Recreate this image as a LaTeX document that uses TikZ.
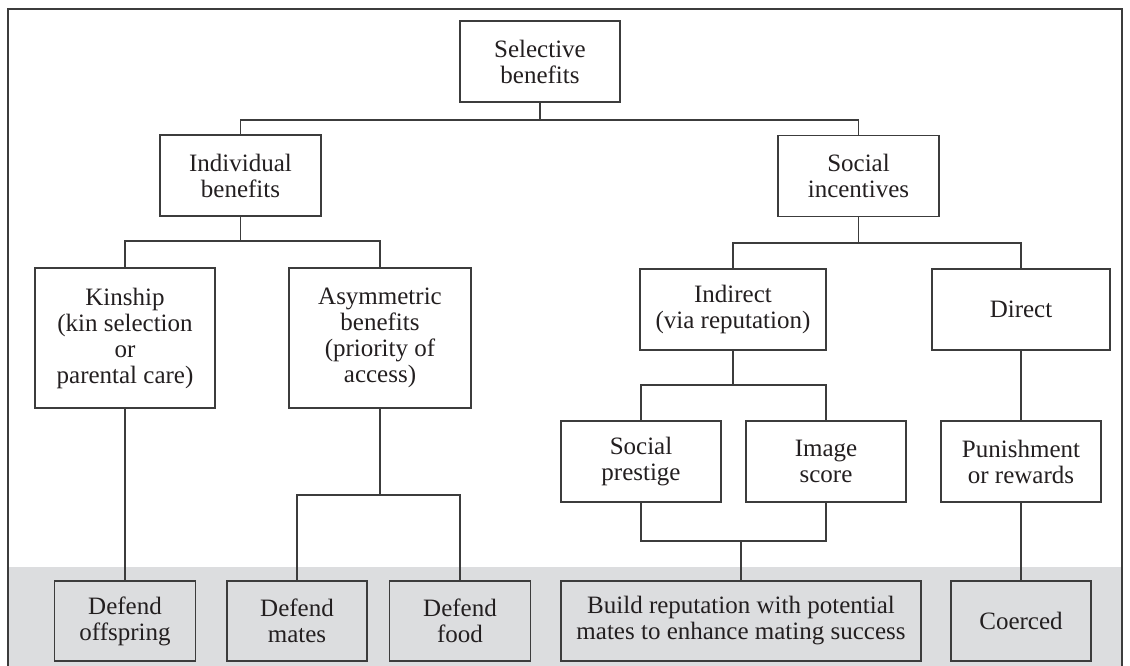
\documentclass[tikz,border=0pt]{standalone}
\usepackage{fontspec}
\setmainfont{Liberation Serif}
\definecolor{linec}{HTML}{3C3C3C}
\definecolor{textc}{HTML}{231F20}
\definecolor{bandc}{HTML}{DCDDDF}
\tikzset{
  box/.style={draw=linec, line width=1.3pt, align=center, inner sep=0pt,
    text=textc, font=\fontsize{25}{26}\selectfont},
  conn/.style={draw=linec, line width=1.3pt},
  whitebox/.style={box, fill=white},
  graybox/.style={box, fill=bandc}
}
\begin{document}
\begin{tikzpicture}[x=1pt,y=-1pt]
\useasboundingbox (0,0) rectangle (1130,666);
% background band and frame
\fill[bandc] (8,567) rectangle (1122,666);
\draw[conn] (8,666) -- (8,9) -- (1122,9) -- (1122,666);

% nodes
\node[whitebox, minimum width=160pt, minimum height=81pt] (sel) at (540,61.5) {Selective\\benefits};
\node[whitebox, minimum width=161pt, minimum height=81pt] (ind) at (240.5,175.5) {Individual\\benefits};
\node[whitebox, minimum width=161pt, minimum height=81pt] (soc) at (858.5,176) {Social\\incentives};
\node[whitebox, minimum width=180pt, minimum height=140pt] (kin) at (125,338) {Kinship\\(kin selection\\or\\parental care)};
\node[whitebox, minimum width=182pt, minimum height=140pt] (asym) at (380,338) {Asymmetric\\benefits\\(priority of\\access)};
\node[whitebox, minimum width=186pt, minimum height=81pt] (indr) at (733,309.5) {Indirect\\(via reputation)};
\node[whitebox, minimum width=178pt, minimum height=81pt] (dir) at (1021,309.5) {Direct};
\node[whitebox, minimum width=160pt, minimum height=81pt] (pres) at (641,461.5) {Social\\prestige};
\node[whitebox, minimum width=160pt, minimum height=81pt] (img) at (826,461.5) {Image\\score};
\node[whitebox, minimum width=160pt, minimum height=81pt] (pun) at (1021,461.5) {Punishment\\or rewards};
\node[graybox, minimum width=141pt, minimum height=80pt] (off) at (125,621) {Defend\\offspring};
\node[graybox, minimum width=140pt, minimum height=80pt] (mat) at (297,621) {Defend\\mates};
\node[graybox, minimum width=141pt, minimum height=80pt] (food) at (460,621) {Defend\\food};
\node[graybox, minimum width=360pt, minimum height=80pt] (build) at (741,621) {Build reputation with potential\\mates to enhance mating success};
\node[graybox, minimum width=140pt, minimum height=80pt] (coer) at (1021,621) {Coerced};

% connectors
\draw[conn] (sel.south) -- (sel.south |- 0,120);
\draw[conn] (ind.north) -- (ind.north |- 0,120) -| (soc.north);

\draw[conn] (ind.south) -- (ind.south |- 0,241);
\draw[conn] (kin.north) -- (kin.north |- 0,241) -| (asym.north);

\draw[conn] (soc.south) -- (soc.south |- 0,243);
\draw[conn] (indr.north) -- (indr.north |- 0,243) -| (dir.north);

\draw[conn] (indr.south) -- (indr.south |- 0,385);
\draw[conn] (pres.north) -- (pres.north |- 0,385) -| (img.north);

\draw[conn] (dir.south) -- (pun.north);

\draw[conn] (kin.south) -- (off.north);

\draw[conn] (asym.south) -- (asym.south |- 0,495);
\draw[conn] (mat.north) -- (mat.north |- 0,495) -| (food.north);

\draw[conn] (pres.south) -- (pres.south |- 0,541) -| (img.south);
\draw[conn] (build.north) -- (build.north |- 0,541);

\draw[conn] (pun.south) -- (coer.north);
\end{tikzpicture}
\end{document}
